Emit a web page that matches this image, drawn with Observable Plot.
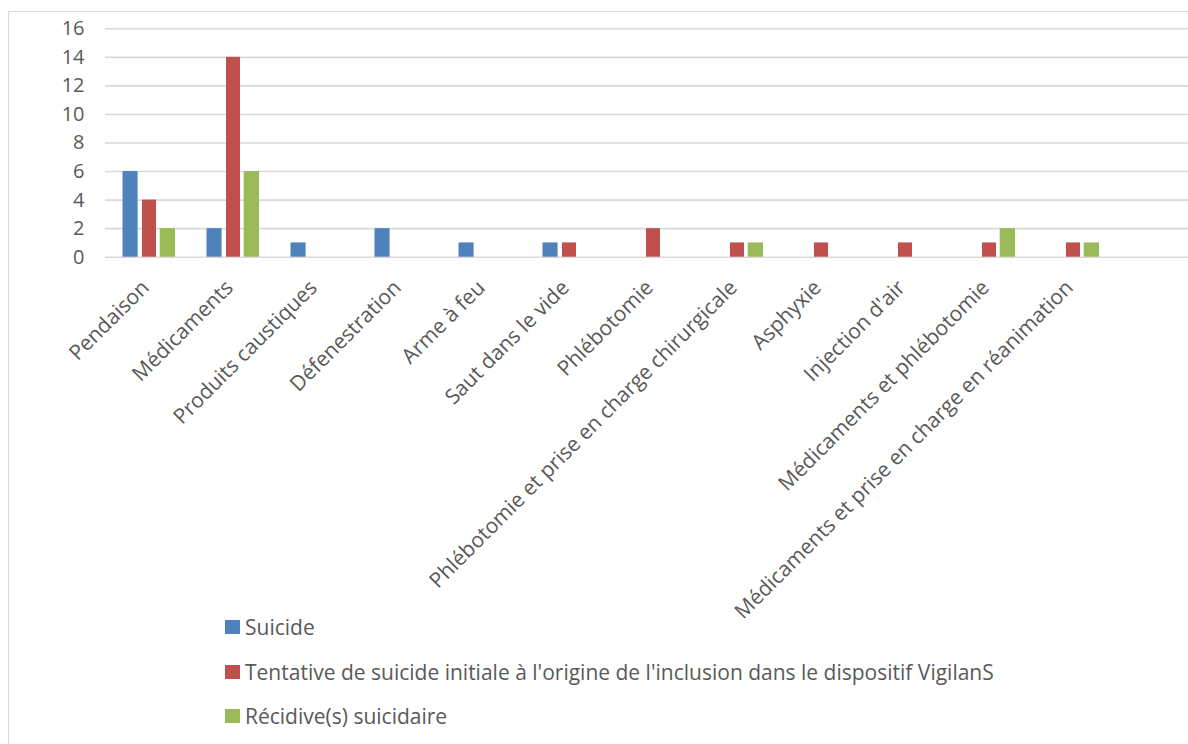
<!DOCTYPE html>
<html>
<head>
<meta charset="utf-8">
<script src="https://cdn.jsdelivr.net/npm/d3@7"></script>
<script src="https://cdn.jsdelivr.net/npm/@observablehq/plot@0.6"></script>
<style>
  html, body { margin: 0; padding: 0; background: #fff; overflow: hidden; width: 1188px; height: 744px; }
  #frame { position: absolute; left: 8px; top: 11px; width: 1300px; height: 900px; border: 1.5px solid #d9d9d9; box-sizing: border-box; }
  #chart { position: absolute; left: 0; top: 0; }
  #legend { position: absolute; left: 225px; top: 605px; font-family: "Open Sans", sans-serif; font-size: 21px; color: #595959; }
  .row { height: 44.5px; display: flex; align-items: center; white-space: nowrap; }
  .sw { width: 15px; height: 14px; margin-right: 5px; flex: none; }
</style>
</head>
<body>
<div id="frame"></div>
<div id="chart"></div>
<div id="legend"></div>
<script>
const categories = [
  "Pendaison", "Médicaments", "Produits caustiques", "Défenestration", "Arme à feu",
  "Saut dans le vide", "Phlébotomie", "Phlébotomie et prise en charge chirurgicale",
  "Asphyxie", "Injection d'air", "Médicaments et phlébotomie",
  "Médicaments et prise en charge en réanimation"
];
const seriesNames = [
  "Suicide",
  "Tentative de suicide initiale à l'origine de l'inclusion dans le dispositif VigilanS",
  "Récidive(s) suicidaire"
];
const suicide   = [6, 2, 1, 2, 1, 1, 0, 0, 0, 0, 0, 0];
const tentative = [4, 14, 0, 0, 0, 1, 2, 1, 1, 1, 1, 1];
const recidive  = [2, 6, 0, 0, 0, 0, 0, 1, 0, 0, 2, 1];
const yTicks = [0, 2, 4, 6, 8, 10, 12, 14, 16];
const colors = ["#4f81bd", "#c0504d", "#9bbb59"];

const seriesValues = [suicide, tentative, recidive];
const rows = [];
seriesValues.forEach((vals, s) => vals.forEach((v, i) => rows.push({cat: categories[i], serie: seriesNames[s], value: v})));

const insets = [[15.5, 53.4], [35, 35], [52.7, 16]];
const bars = seriesNames.map((name, s) => Plot.barY(
  rows.filter(d => d.serie === name && d.value > 0),
  {x: "cat", y: "value", fill: colors[s], insetLeft: insets[s][0], insetRight: insets[s][1]}
));

const chart = Plot.plot({
  width: 1188,
  height: 605,
  marginTop: 28.3,
  marginBottom: 348.3,
  marginLeft: 105,
  marginRight: 0,
  style: {fontFamily: "'Open Sans', sans-serif", fontSize: "20px", color: "#595959", background: "transparent", overflow: "visible"},
  x: {domain: categories, range: [106, 1115.4], padding: 0, label: null},
  y: {domain: [0, 16], label: null},
  marks: [
    Plot.ruleY(yTicks, {stroke: "#d9d9d9", strokeWidth: 1.6}),
    ...bars,
    Plot.axisY(yTicks, {tickSize: 0, tickPadding: 21, fontSize: 20, fill: "#595959", label: null}),
    Plot.axisX({tickRotate: -45, tickSize: 0, tickPadding: 27, dx: -4, fontSize: 21, fill: "#595959", label: null})
  ]
});
document.getElementById("chart").appendChild(chart);

const legend = document.getElementById("legend");
seriesNames.forEach((name, s) => {
  const row = document.createElement("div");
  row.className = "row";
  const sw = document.createElement("span");
  sw.className = "sw";
  sw.style.background = colors[s];
  const t = document.createElement("span");
  t.textContent = name;
  row.appendChild(sw);
  row.appendChild(t);
  legend.appendChild(row);
});
</script>
</body>
</html>
